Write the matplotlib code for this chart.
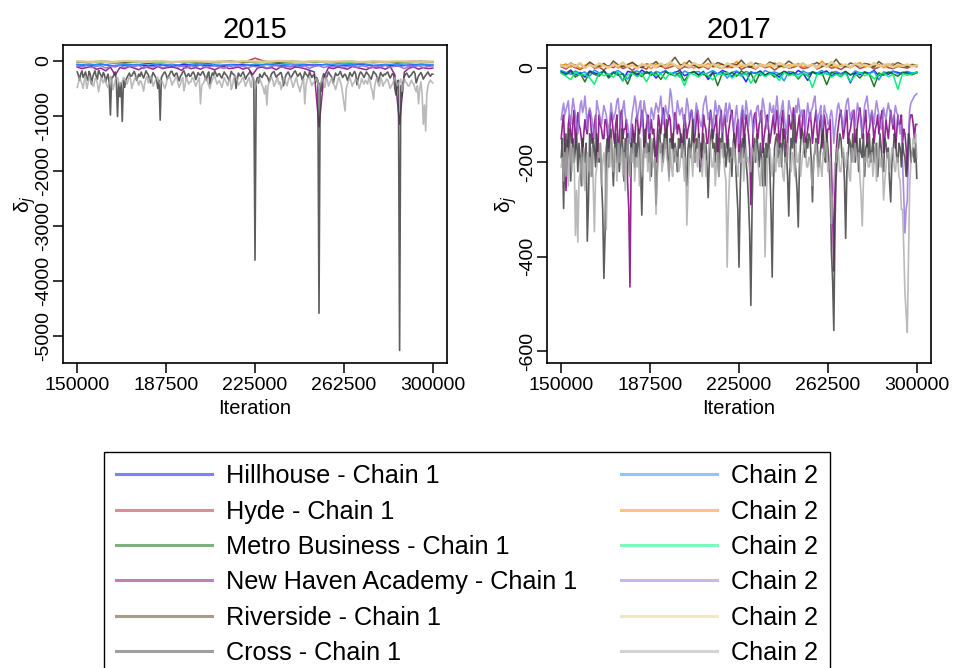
import matplotlib
matplotlib.use("Agg")
import matplotlib.pyplot as plt
from matplotlib.lines import Line2D
import numpy as np

plt.rcParams["font.family"] = ["Liberation Sans", "DejaVu Sans"]
plt.rcParams["axes.unicode_minus"] = False

schools = ["Hillhouse", "Hyde", "Metro Business", "New Haven Academy", "Riverside", "Cross"]
col_c1 = ["#0000ff", "#a52a2a", "#006400", "#800080", "#503a14", "#404040"]
col_c2 = ["#1e90ff", "#ff8c00", "#00ee76", "#9370db", "#e6cc94", "#a9a9a9"]

it_start, it_end = 150000, 300000
xticks = [150000, 187500, 225000, 262500, 300000]

# ---- 2015 traces ----
hill1_15 = [-70, -80, -60, -90, -75, -65, -85, -70, -95, -60, -80, -75, -90, -65, -70, -85,
            -60, -80, -100, -70, -75, -65, -90, -80, -60, -85, -70, -95, -75, -65, -80]
hill2_15 = [-60, -75, -55, -85, -65, -70, -50, -80, -60, -90, -65, -55, -75, -70, -85, -60,
            -65, -80, -55, -70, -90, -60, -75, -65, -50, -80, -70, -60, -85, -65, -70]
hyde1_15 = [-20, -30, -15, -25, -35, -20, -10, -30, -25, -15, -40, -20, -25, -15, -30, 50,
            -20, -35, -25, -15, -30, -20, -25, -40, -15, -30, -20, -25, -35, -20, -25]
hyde2_15 = [-15, -25, -20, -30, -10, -25, -20, -35, -15, -20, -25, -10, -30, -20, -15, -25,
            -20, -30, -15, -25, -20, -10, -30, -20, -25, -15, -35, -20, -25, -15, -20]
metro1_15 = [-20, -30, -15, -35, -25, -20, -40, -25, -15, -30, -20, -35, -25, -15, -30, -20,
             -25, -40, -20, -30, -15, -25, -35, -20, -30, -25, -15, -35, -20, -30, -25]
metro2_15 = [-15, -25, -20, -30, -10, -25, -20, -35, -15, -20, -30, -15, -25, -20, -10, -30,
             -20, -25, -15, -35, -20, -25, -15, -30, -20, -10, -25, -20, -30, -15, -20]
nha1_15 = [-110, -140, -120, -100, -150, -130, -180, -110, -260, -120,
           -140, -100, -130, -160, -110, -120, -150, -100, -140, -120,
           -110, -130, -170, -100, -140, -120, -150, -110, -130, -160,
           -120, -100, -140, -130, -110, -150, -120, -250, -130, -110,
           -140, -120, -160, -100, -130, -150, -110, -120, -140, -170,
           -200, -1200, -300, -120, -140, -110, -130, -150, -100, -120,
           -140, -160, -110, -130, -120, -150, -100, -250, -1150, -200,
           -130, -110, -150, -120, -140, -130]
nha2_15 = [-90, -110, -80, -120, -100, -85, -130, -95, -110, -75,
           -120, -90, -105, -80, -140, -95, -110, -85, -125, -100,
           -80, -115, -95, -130, -90, -105, -75, -120, -100, -85,
           -110, -140, -90, -115, -80, -100, -125, -95, -110, -85,
           -130, -100, -80, -120, -95, -110, -75, -105, -90, -135,
           -100, -85, -120, -95, -110, -80, -125, -100, -90, -115,
           -85, -105, -130, -95, -110, -80, -120, -90, -100, -140,
           -95, -110, -85, -120, -100, -90]
river1_15 = [-10, -20, -5, -15, -25, -10, -15, -5, -20, -10, -15, -30, -10, -5, -20, -15,
             -10, -25, -5, -15, -10, -20, -15, -5, -25, -10, -15, -20, -10, -5, -15]
river2_15 = [-5, -15, -10, -20, 0, -10, -15, -5, -20, -10, -5, -15, -10, -25, -5, -10,
             -15, 0, -10, -20, -5, -15, -10, -5, -20, -10, -15, -5, -10, -15, -10]
cross1_15 = [-200, -260, -350, -230, -180, -300, -250, -200, -300, -350, -190, -240, -420, -300, -230, -180, -280, -330, -170, -220,
             -260, -300, -210, -250, -380, -300, -240, -400, -983, -300, -300, -250, -200, -350, -1010, -400, -650, -400, -1098, -350,
             -480, -350, -300, -260, -220, -280, -270, -230, -190, -240, -350, -300, -240, -280, -200, -260, -310, -250, -180, -220,
             -250, -330, -400, -280, -210, -250, -290, -350, -500, -350, -1075, -300, -260, -220, -200, -250, -330, -280, -240, -190,
             -190, -250, -280, -230, -220, -300, -360, -280, -250, -200, -180, -240, -300, -260, -230, -280, -270, -220, -200, -250,
             -340, -280, -210, -250, -260, -220, -190, -240, -300, -350, -240, -200, -420, -300, -220, -260, -180, -230, -280, -240,
             -230, -280, -310, -250, -200, -240, -260, -300, -350, -280, -190, -230, -240, -280, -500, -350, -220, -260, -280, -230,
             -200, -260, -330, -280, -250, -220, -190, -250, -300, -350, -3620, -380, -300, -400, -240, -280, -300, -250, -210, -260,
             -270, -320, -380, -300, -230, -210, -190, -250, -300, -260, -250, -220, -210, -300, -450, -350, -260, -230, -200, -250,
             -310, -280, -240, -200, -180, -230, -280, -250, -220, -270, -350, -280, -200, -240, -260, -300, -190, -250, -300, -260,
             -250, -400, -300, -350, -4585, -400, -550, -300, -230, -280, -320, -260, -200, -240, -270, -310, -400, -300, -220, -260,
             -260, -230, -190, -250, -300, -260, -240, -280, -350, -300, -210, -250, -280, -230, -190, -240, -430, -320, -250, -200,
             -220, -260, -300, -250, -200, -230, -260, -300, -330, -260, -190, -220, -240, -300, -380, -290, -210, -250, -280, -240,
             -250, -220, -200, -260, -310, -270, -230, -250, -500, -620, -400, -350, -5262, -450, -650, -400, -280, -240, -220, -260,
             -300, -270, -250, -210, -190, -230, -400, -330, -270, -240, -210, -260, -330, -290, -260, -230, -200, -250, -280, -240,
             -240]
cross2_15 = [-480, -400, -300, -350, -420, -500, -350, -280, -500, -420, -280, -350, -380, -450, -450, -320, -320, -400, -560, -450,
             -300, -350, -400, -320, -350, -450, -480, -400, -280, -330, -520, -450, -360, -300, -300, -380, -450, -400, -380, -300,
             -320, -380, -420, -350, -280, -330, -500, -420, -350, -300, -300, -380, -440, -360, -380, -450, -550, -400, -320, -280,
             -400, -350, -280, -320, -460, -400, -350, -300, -300, -380, -420, -360, -380, -450, -500, -420, -320, -300, -280, -350,
             -440, -380, -360, -300, -300, -400, -480, -420, -350, -300, -540, -450, -300, -350, -420, -380, -380, -300, -320, -400,
             -460, -400, -350, -300, -780, -450, -420, -380, -300, -350, -380, -450, -500, -400, -340, -300, -280, -350, -420, -380,
             -360, -420, -480, -400, -300, -350, -400, -450, -350, -300, -520, -450, -320, -280, -280, -350, -440, -400, -380, -320,
             -300, -380, -460, -400, -350, -300, -420, -480, -280, -330, -500, -420, -380, -320, -320, -380, -440, -500, -600, -450,
             -800, -450, -380, -320, -300, -350, -460, -420, -350, -300, -420, -380, -520, -450, -320, -300, -400, -450, -360, -300,
             -300, -380, -480, -420, -350, -300, -420, -480, -560, -450, -380, -320, -780, -450, -340, -300, -300, -380, -450, -400,
             -380, -330, -320, -400, -500, -420, -360, -300, -420, -480, -300, -350, -460, -400, -350, -300, -400, -450, -520, -430,
             -340, -300, -380, -450, -600, -750, -910, -500, -420, -350, -300, -380, -460, -400, -380, -330, -350, -420, -500, -420,
             -320, -380, -420, -350, -380, -420, -300, -350, -480, -550, -700, -450, -360, -300, -420, -460, -300, -350, -460, -400,
             -380, -330, -340, -420, -500, -450, -420, -360, -300, -380, -450, -400, -380, -330, -550, -450, -320, -380, -400, -450,
             -460, -400, -350, -400, -420, -500, -560, -450, -780, -500, -380, -600, -1150, -800, -1270, -600, -450, -380, -350, -380,
             -400]

# ---- 2017 traces ----
hill1_17 = [-8, -12, -5, -15, -10, -20, -7, -11, -14, -6, -18, -9, -13, -28, -8, -10,
            -16, -5, -12, -9, -22, -11, -7, -14, -10, -6, -17, -12, -9, -15, -8, -25,
            -11, -13, -6, -10, -19, -8, -14, -30, -9, -12, -7, -16, -10, -13, -20, -8,
            -11, -15, -6, -12, -27, -9, -14, -10, -7, -18, -11, -13, -8, -32, -10, -15,
            -9, -12, -6, -17, -11, -14, -8, -10, -13, -9, -12, -10]
hill2_17 = [-6, -10, -14, -7, -12, -9, -18, -5, -11, -8, -15, -10, -6, -13, -24, -9,
            -7, -12, -10, -16, -8, -11, -6, -14, -9, -20, -7, -12, -10, -8, -15, -11,
            -6, -13, -9, -22, -10, -7, -14, -8, -12, -10, -17, -6, -11, -9, -13, -28,
            -8, -10, -15, -7, -12, -9, -11, -6, -14, -10, -8, -13, -9, -16, -7, -11,
            -10, -12, -8, -26, -9, -11, -7, -13, -10, -8, -12, -9]
hyde1_17 = [2, -3, 5, 0, -4, 3, 7, -1, 1, -5, 4, 0, 6, -2, 2, -6, 3, 1, -3, 8, 0, 4,
            -2, 1, 5, -4, 2, 0, 6, -1, 3, -3, 9, 1, -2, 4, 0, 7, -4, 2, 1, -3, 5, 0,
            3, -5, 2, 6, -1, 1, 4, -2, 0, 8, -3, 2, 5, -1, 1, -4, 3, 0, 6, -2, 2, 4,
            -3, 1, 7, 0, -2, 3, 1, -1, 4, 2]
hyde2_17 = [4, 8, 1, 6, -2, 5, 10, 3, 0, 7, 2, 9, -1, 5, 3, 12, 1, 6, 4, -2, 8, 3,
            0, 7, 5, 2, 11, 4, -1, 6, 3, 9, 1, 5, 7, 0, 4, 13, 2, 6, 3, -1, 8, 4, 2,
            10, 5, 0, 6, 3, 9, 1, 4, 7, 2, 14, 3, 5, 0, 8, 4, 2, 6, 11, 1, 5, 3, 7,
            0, 4, 9, 2, 6, 3, 5, 4]
metro1_17 = [-10, -15, -8, -20, -12, -30, -9, -14, -18, -7, -22, -11, -16, -13, -35,
             -10, -12, -19, -8, -15, -11, -25, -9, -14, -17, -10, -28, -12, -8, -16,
             -13, -20, -9, -38, -11, -15, -10, -18, -7, -14, -12, -32, -9, -16, -11,
             -20, -13, -8, -15, -10, -24, -12, -17, -9, -14, -11, -36, -10, -13, -19,
             -8, -15, -12, -22, -10, -14, -40, -11, -16, -9, -13, -18, -10, -12, -15, -11]
metro2_17 = [-12, -18, -25, -10, -16, -14, -22, -35, -11, -17, -13, -20, -9, -28, -15,
             -12, -19, -14, -30, -11, -16, -13, -24, -10, -18, -15, -38, -12, -14, -20,
             -11, -17, -26, -13, -15, -10, -22, -14, -18, -12, -33, -16, -11, -19, -13,
             -15, -27, -10, -17, -14, -21, -12, -16, -42, -13, -15, -11, -20, -14, -18,
             -12, -29, -16, -10, -17, -13, -24, -15, -11, -19, -14, -46, -12, -16, -13, -10]
nha1_17 = [-150, -120, -100, -180, -260, -200, -120, -100, -140, -160, -110, -90, -170, -130, -95, -120, -130, -150, -180, -140,
           -110, -130, -140, -100, -90, -120, -160, -140, -120, -100, -200, -170, -100, -120, -130, -150, -150, -110, -110, -140,
           -170, -130, -95, -110, -140, -160, -120, -100, -190, -150, -100, -90, -150, -130, -130, -110, -240, -300, -464, -200,
           -120, -140, -160, -110, -100, -130, -140, -120, -90, -110, -180, -150, -120, -100, -150, -130, -110, -140, -130, -160,
           -200, -150, -100, -120, -140, -110, -85, -100, -160, -130, -120, -100, -110, -150, -170, -130, -95, -110, -140, -120,
           -130, -150, -180, -140, -100, -120, -150, -130, -120, -100, -90, -110, -160, -140, -110, -90, -140, -170, -210, -150,
           -100, -120, -130, -160, -160, -120, -90, -110, -150, -130, -120, -100, -180, -150, -110, -90, -140, -120, -100, -130,
           -170, -140, -120, -100, -90, -120, -150, -170, -130, -110, -200, -160, -110, -90, -160, -130, -100, -120, -140, -170,
           -290, -200, -120, -100, -95, -130, -150, -120, -110, -90, -180, -150, -130, -110, -100, -130, -160, -140, -120, -100,
           -140, -120, -90, -110, -170, -140, -110, -90, -150, -130, -200, -160, -100, -120, -130, -110, -85, -100, -160, -140,
           -120, -100, -150, -130, -100, -90, -180, -150, -130, -110, -95, -120, -160, -130, -110, -90, -140, -160, -120, -100,
           -170, -140, -100, -120, -150, -130, -130, -110, -210, -300, -430, -250, -180, -140, -120, -100, -90, -120, -150, -130,
           -110, -90, -160, -140, -130, -110, -100, -90, -190, -150, -120, -100, -85, -110, -150, -130, -110, -90, -170, -140,
           -130, -110, -95, -120, -160, -130, -120, -100, -140, -120, -100, -90, -180, -150, -110, -130, -150, -120, -90, -110,
           -130, -100, -170, -140, -100, -120, -120, -100, -160, -130, -140, -170, -230, -160, -110, -100, -100, -120, -150, -120,
           -120]
nha2_17 = [-110, -90, -75, -100, -90, -80, -70, -110, -120, -90, -65, -85, -100, -120, -140, -110, -80, -70, -95, -85,
           -60, -90, -130, -100, -85, -95, -110, -130, -150, -120, -70, -85, -95, -110, -120, -100, -80, -90, -100, -120,
           -140, -110, -75, -95, -110, -100, -90, -70, -65, -95, -130, -110, -85, -70, -100, -115, -120, -140, -160, -120,
           -95, -80, -60, -75, -110, -95, -80, -70, -125, -100, -70, -90, -100, -120, -140, -110, -85, -95, -110, -90,
           -75, -85, -95, -80, -60, -90, -120, -100, -80, -95, -105, -80, -45, -60, -90, -110, -130, -100, -70, -85,
           -100, -90, -85, -110, -120, -95, -65, -80, -110, -95, -90, -120, -140, -105, -75, -90, -100, -115, -125, -110,
           -80, -70, -60, -85, -110, -95, -95, -120, -130, -100, -70, -90, -100, -80, -85, -110, -150, -120, -90, -75,
           -115, -90, -75, -95, -100, -120, -130, -100, -80, -110, -160, -120, -95, -80, -110, -100, -70, -90, -125, -100,
           -90, -110, -140, -120, -105, -85, -80, -100, -115, -95, -65, -80, -100, -120, -130, -110, -75, -90, -95, -80,
           -110, -85, -60, -90, -120, -100, -85, -70, -100, -120, -140, -110, -70, -85, -95, -110, -115, -100, -80, -95,
           -65, -85, -105, -90, -90, -120, -130, -100, -75, -95, -110, -90, -85, -70, -60, -90, -120, -100, -95, -80,
           -140, -110, -80, -95, -100, -120, -120, -100, -90, -110, -160, -130, -110, -85, -75, -90, -95, -110, -130, -105,
           -85, -70, -65, -90, -110, -95, -90, -120, -125, -100, -75, -90, -100, -120, -140, -110, -80, -70, -60, -85,
           -105, -120, -90, -100, -120, -90, -70, -85, -100, -120, -130, -105, -85, -100, -110, -90, -75, -90, -95, -115,
           -120, -100, -80, -95, -100, -120, -140, -120, -200, -270, -350, -300, -280, -150, -90, -75, -70, -65, -60, -58,
           -55]
river1_17 = [6, 2, 10, 4, 8, 0, 12, 5, 3, 9, 1, 14, 6, 2, 7, 11, 4, 0, 8, 5,
             13, 3, 6, 10, 22, 7, 4, 15, 5, 1, 9, 20, 3, 11, 7, 2, 8, 5, 16, 4,
             1, 10, 6, 3, 12, 8, 2, 5, 14, 7, 4, 9, 1, 6, 11, 3, 8, 5, 18, 4,
             2, 10, 6, 3, 9, 7, 1, 13, 5, 8, 4, 11, 6, 2, 7, 5]
river2_17 = [5, 1, 8, 3, 10, -1, 6, 2, 9, 4, 0, 7, 3, 11, 2, 5, -2, 8, 4, 6,
             1, 9, 3, 12, 5, 0, 7, 2, 10, 4, 6, 1, 8, 3, -1, 9, 5, 2, 7, 4,
             11, 0, 6, 3, 8, 2, 10, 5, 1, 7, 4, 9, 3, 6, 0, 8, 2, 12, 5, 3,
             7, 1, 9, 4, 6, 2, 10, 3, 5, 8, 1, 6, 4, 7, 3, 5]
cross1_17 = [-190, -150, -298, -170, -140, -210, -160, -130, -240, -180, -150, -200, -170, -140, -220, -160, -190, -250, -150, -180,
             -200, -160, -367, -280, -140, -190, -230, -150, -170, -210, -140, -180, -200, -160, -240, -300, -446, -350, -170, -150,
             -210, -160, -130, -190, -250, -170, -140, -200, -160, -220, -180, -130, -170, -240, -150, -190, -140, -200, -230, -160,
             -180, -140, -210, -160, -190, -130, -170, -220, -312, -200, -150, -130, -180, -160, -200, -140, -230, -170, -150, -190,
             -290, -210, -150, -130, -180, -160, -200, -140, -170, -110, -190, -230, -150, -170, -140, -200, -160, -180, -220, -150,
             -170, -140, -190, -160, -130, -210, -250, -170, -150, -190, -160, -110, -180, -200, -150, -170, -140, -220, -160, -190,
             -140, -180, -160, -200, -275, -190, -150, -130, -170, -160, -200, -140, -180, -230, -150, -170, -140, -190, -160, -210,
             -180, -150, -200, -170, -230, -160, -140, -190, -250, -300, -422, -260, -170, -150, -190, -140, -200, -230, -280, -350,
             -503, -300, -180, -150, -200, -140, -170, -210, -160, -190, -250, -170, -250, -160, -190, -140, -210, -300, -443, -260,
             -170, -150, -140, -190, -180, -160, -210, -130, -160, -200, -180, -230, -314, -200, -150, -170, -100, -190, -220, -260,
             -337, -210, -160, -130, -140, -180, -190, -150, -170, -140, -150, -200, -284, -190, -180, -150, -160, -210, -200, -170,
             -150, -130, -180, -200, -140, -170, -200, -260, -390, -450, -556, -330, -230, -180, -170, -140, -150, -190, -180, -240,
             -361, -220, -190, -150, -160, -200, -140, -170, -200, -130, -170, -220, -150, -180, -190, -140, -230, -170, -160, -190,
             -140, -200, -180, -150, -200, -170, -160, -230, -190, -140, -170, -210, -220, -150, -160, -190, -170, -240, -284, -200,
             -180, -140, -150, -190, -200, -160, -170, -210, -160, -180, -190, -230, -210, -140, -150, -200, -180, -170, -200, -160,
             -234]
cross2_17 = [-210, -190, -240, -180, -230, -170, -250, -200, -160, -220, -170, -200, -355, -260, -369, -240, -220, -190, -250, -170,
             -260, -200, -180, -220, -190, -230, -170, -250, -347, -230, -210, -180, -190, -160, -250, -200, -180, -210, -343, -220,
             -180, -210, -150, -200, -220, -170, -190, -240, -160, -200, -200, -170, -230, -180, -260, -190, -150, -210, -230, -170,
             -200, -160, -240, -190, -210, -180, -250, -150, -200, -230, -170, -190, -160, -220, -180, -240, -150, -200, -210, -190,
             -310, -230, -190, -170, -160, -220, -200, -180, -150, -190, -200, -240, -160, -210, -230, -180, -170, -200, -190, -220,
             -210, -180, -160, -200, -240, -190, -333, -250, -200, -170, -190, -230, -160, -200, -180, -210, -150, -190, -200, -230,
             -180, -160, -230, -200, -190, -150, -170, -210, -210, -180, -250, -200, -180, -230, -200, -160, -160, -190, -220, -240,
             -422, -300, -230, -190, -190, -160, -170, -200, -210, -230, -180, -200, -200, -170, -240, -190, -170, -200, -190, -220,
             -220, -170, -180, -200, -160, -190, -200, -230, -250, -200, -190, -260, -400, -280, -210, -180, -170, -200, -230, -190,
             -190, -220, -160, -200, -210, -170, -180, -230, -240, -190, -200, -160, -170, -210, -220, -180, -190, -230, -160, -200,
             -200, -180, -230, -200, -180, -160, -160, -210, -210, -190, -190, -230, -250, -200, -170, -160, -200, -230, -180, -210,
             -230, -180, -190, -160, -160, -220, -210, -190, -330, -280, -250, -200, -200, -170, -180, -220, -220, -190, -170, -200,
             -210, -180, -190, -230, -240, -170, -180, -200, -160, -190, -200, -180, -230, -270, -335, -240, -190, -200, -170, -210,
             -210, -190, -180, -230, -200, -160, -240, -190, -170, -210, -190, -200, -280, -240, -210, -180, -180, -220, -200, -170,
             -170, -210, -220, -190, -190, -230, -240, -300, -300, -380, -475, -520, -560, -400, -250, -200, -180, -150, -160, -140,
             -190]

panels = [
    ("2015", [(hill1_15, hill2_15), (hyde1_15, hyde2_15), (metro1_15, metro2_15),
              (nha1_15, nha2_15), (river1_15, river2_15), (cross1_15, cross2_15)],
     (-5490, 290), [0, -1000, -2000, -3000, -4000, -5000]),
    ("2017", [(hill1_17, hill2_17), (hyde1_17, hyde2_17), (metro1_17, metro2_17),
              (nha1_17, nha2_17), (river1_17, river2_17), (cross1_17, cross2_17)],
     (-625, 48), [0, -200, -400, -600]),
]

W, H = 956, 668
fig = plt.figure(figsize=(W / 100, H / 100), dpi=100)
boxes = [(63, 45, 384, 318), (547, 45, 384, 318)]
ylab_x = [-0.066, -0.073]

for (title, pairs, ylim, yticks), (bx, by, bw, bh), lx in zip(panels, boxes, ylab_x):
    ax = fig.add_axes([bx / W, 1 - (by + bh) / H, bw / W, bh / H])
    for k, (c1, c2) in enumerate(pairs):
        wide = len(c1) > 100
        ax.plot(np.linspace(it_start, it_end, len(c1)), c1, color=col_c1[k],
                lw=1.2 if wide else 1.1, alpha=0.85)
        ax.plot(np.linspace(it_start, it_end, len(c2)), c2, color=col_c2[k],
                lw=1.2 if wide else (1.8 if k == 4 else 1.1), alpha=0.8 if wide else 0.95)
    ax.set_xlim(144000, 306000)
    ax.set_ylim(*ylim)
    ax.set_xticks(xticks)
    ax.set_xticklabels([str(t) for t in xticks])
    ax.set_yticks(yticks)
    ax.set_yticklabels([str(t) for t in yticks])
    ax.tick_params(direction="out", length=7, width=1.1, labelsize=14, pad=3)
    ax.tick_params(axis="y", labelrotation=90, pad=0.5)
    for lab in ax.get_yticklabels():
        lab.set_va("center")
    for s in ax.spines.values():
        s.set_linewidth(1.2)
    ax.set_title(title, fontsize=21, pad=5)
    ax.set_xlabel("Iteration", fontsize=14.5, labelpad=4)
    ax.set_ylabel("δ$_j$", fontsize=15)
    ax.yaxis.set_label_coords(lx, 0.5)

handles = [Line2D([], [], color=c, lw=2.2, alpha=0.5) for c in col_c1 + col_c2]
labels = [f"{s} - Chain 1" for s in schools] + ["Chain 2"] * len(schools)
leg = fig.legend(handles, labels, loc="upper left", bbox_to_anchor=(104 / W, 1 - 452 / H),
                 ncol=2, fontsize=18.2, frameon=True, fancybox=False, edgecolor="black",
                 framealpha=1, handlelength=3.8, handletextpad=0.55, columnspacing=1.73,
                 labelspacing=0.45, borderpad=0.48, borderaxespad=0)
leg.get_frame().set_linewidth(1.0)

fig.savefig("out.png", dpi=100)
